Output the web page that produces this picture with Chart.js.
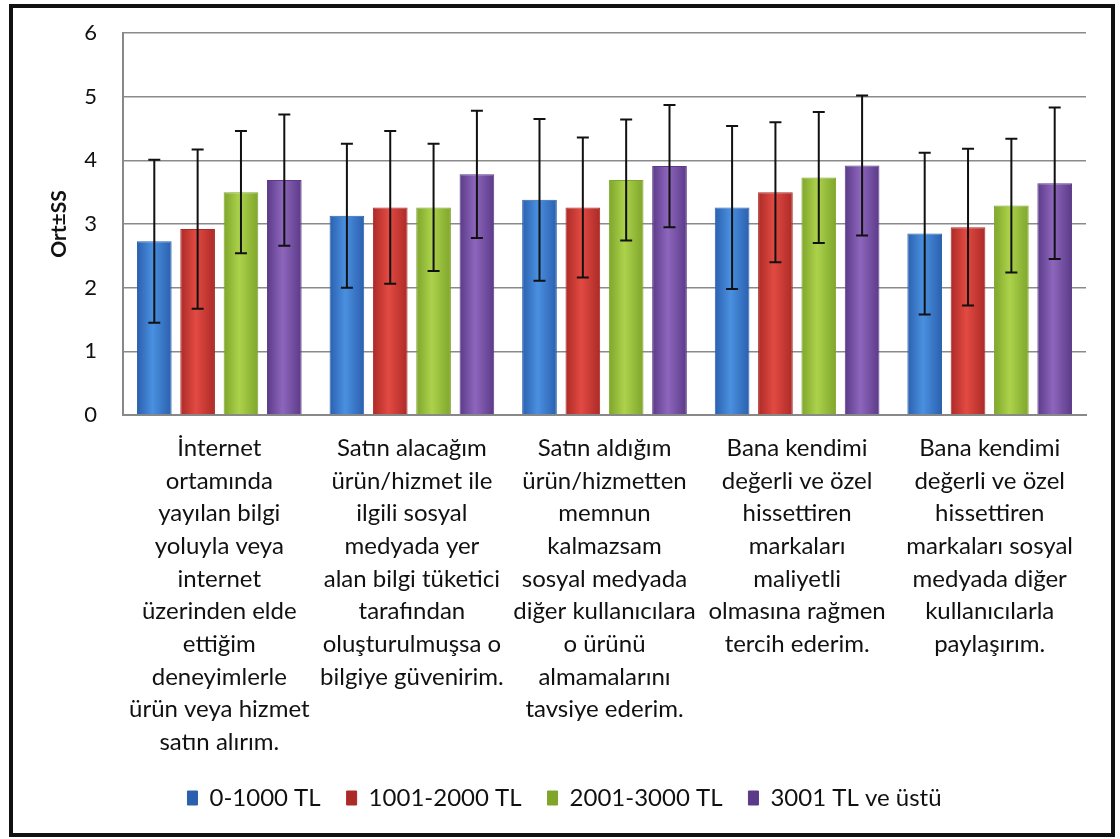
<!DOCTYPE html>
<html>
<head>
<meta charset="utf-8">
<script src="https://cdn.jsdelivr.net/npm/chart.js@4"></script>
<style>
  body { margin: 0; background: #fff; }
  #frame {
    position: absolute; left: 9px; top: 4px;
    width: 1098px; height: 825px;
    border: 4px solid #111;
    background: #fff;
  }
  #chart1 { display: block; }
</style>
</head>
<body>
<div id="frame"><canvas id="chart1" width="1098" height="825"></canvas></div>
<script>
const labels1 = [
  ["İnternet", "ortamında", "yayılan bilgi", "yoluyla veya", "internet", "üzerinden elde", "ettiğim", "deneyimlerle", "ürün veya hizmet", "satın alırım."],
  ["Satın alacağım", "ürün/hizmet ile", "ilgili sosyal", "medyada yer", "alan bilgi tüketici", "tarafından", "oluşturulmuşsa o", "bilgiye güvenirim."],
  ["Satın aldığım", "ürün/hizmetten", "memnun", "kalmazsam", "sosyal medyada", "diğer kullanıcılara", "o ürünü", "almamalarını", "tavsiye ederim."],
  ["Bana kendimi", "değerli ve özel", "hissettiren", "markaları", "maliyetli", "olmasına rağmen", "tercih ederim."],
  ["Bana kendimi", "değerli ve özel", "hissettiren", "markaları sosyal", "medyada diğer", "kullanıcılarla", "paylaşırım."]
];

const seriesNames = ["0-1000 TL", "1001-2000 TL", "2001-3000 TL", "3001 TL ve üstü"];

// means (Ort)
const ort0 = [2.73, 3.13, 3.38, 3.26, 2.85];
const ort1 = [2.92, 3.26, 3.26, 3.50, 2.95];
const ort2 = [3.50, 3.26, 3.69, 3.73, 3.29];
const ort3 = [3.69, 3.78, 3.91, 3.92, 3.64];

// standard deviations (SS)
const ss0 = [1.28, 1.13, 1.27, 1.28, 1.27];
const ss1 = [1.25, 1.20, 1.10, 1.10, 1.23];
const ss2 = [0.96, 1.00, 0.95, 1.03, 1.05];
const ss3 = [1.03, 1.00, 0.96, 1.10, 1.19];

const yTicks = [0, 1, 2, 3, 4, 5, 6];

// edge / centre colours for the cylinder look
const edge1 = ["#2a60ae", "#ac2a27", "#7fa52b", "#5b3a88"];
const mid1 = ["#4a90e0", "#e24a42", "#acd24c", "#8d66bc"];
const legend1 = ["#3a72c0", "#c43a34", "#9bc43e", "#7a52a8"];

const means = [ort0, ort1, ort2, ort3];
const sds = [ss0, ss1, ss2, ss3];

function barFill(i) {
  return (c) => {
    const el = c.element;
    if (c.type !== "data" || !el || el.x === undefined || !el.width) return legend1[i];
    const g = c.chart.ctx.createLinearGradient(el.x - el.width / 2, 0, el.x + el.width / 2, 0);
    g.addColorStop(0, edge1[i]);
    g.addColorStop(0.45, mid1[i]);
    g.addColorStop(1, edge1[i]);
    return g;
  };
}

const data1 = {
  labels: labels1,
  datasets: seriesNames.map((name, i) => ({
    label: name,
    data: means[i],
    sd: sds[i],
    backgroundColor: barFill(i),
    borderColor: edge1[i],
    borderWidth: 1,
    categoryPercentage: 0.9,
    barPercentage: 0.8,
  })),
};

// error bars drawn through the y scale
const errorBars = {
  id: "errorBars",
  afterDatasetsDraw(chart) {
    const ctx = chart.ctx;
    const y = chart.scales.y;
    ctx.save();
    ctx.strokeStyle = "#111";
    ctx.lineWidth = 2;
    chart.data.datasets.forEach((ds, di) => {
      const meta = chart.getDatasetMeta(di);
      meta.data.forEach((bar, j) => {
        const m = ds.data[j], s = ds.sd[j];
        const top = y.getPixelForValue(m + s);
        const bot = y.getPixelForValue(m - s);
        const x = bar.x;
        ctx.beginPath();
        ctx.moveTo(x, top); ctx.lineTo(x, bot);
        ctx.moveTo(x - 6, top); ctx.lineTo(x + 6, top);
        ctx.moveTo(x - 6, bot); ctx.lineTo(x + 6, bot);
        ctx.stroke();
      });
    });
    ctx.restore();
  }
};

const config1 = {
  type: "bar",
  data: data1,
  options: {
    responsive: false,
    animation: false,
    layout: { padding: { left: 30, right: 25, top: 25, bottom: 13 } },
    scales: {
      x: {
        afterFit: (scale) => {
          scale.paddingLeft = 0;
          scale.paddingRight = 0;
          scale.height = 339;
        },
        grid: { display: false },
        border: { color: "#888", width: 2 },
        ticks: {
          autoSkip: false,
          maxRotation: 0,
          minRotation: 0,
          padding: 9,
          color: "#111",
          font: { family: "Lato", size: 24, lineHeight: 1.36 },
        },
      },
      y: {
        min: 0,
        max: 6,
        afterBuildTicks: (axis) => { axis.ticks = yTicks.map((v) => ({ value: v })); },
        afterFit: (scale) => {
          scale.width = 80;
          scale.paddingTop = 0;
          scale.paddingBottom = 0;
        },
        grid: { color: "#8a8a8a", lineWidth: 1.5, drawTicks: false },
        border: { color: "#888", width: 2 },
        ticks: {
          padding: 26,
          color: "#111",
          font: { family: "Lato", size: 22 },
        },
        title: {
          display: true,
          text: "Ort±SS",
          color: "#111",
          font: { family: "Lato", size: 21, weight: "bold" },
          padding: { top: 4, bottom: 4 },
        },
      },
    },
    plugins: {
      legend: {
        position: "bottom",
        title: { display: true, text: " ", font: { size: 5 }, padding: 0 },
        labels: {
          boxWidth: 10,
          boxHeight: 14,
          padding: 26,
          color: "#111",
          font: { family: "Lato", size: 24 },
        },
      },
      tooltip: { enabled: false },
    },
  },
  plugins: [errorBars],
};

const myChart1 = new Chart(document.getElementById("chart1"), config1);
myChart1.update();
</script>
</body>
</html>
